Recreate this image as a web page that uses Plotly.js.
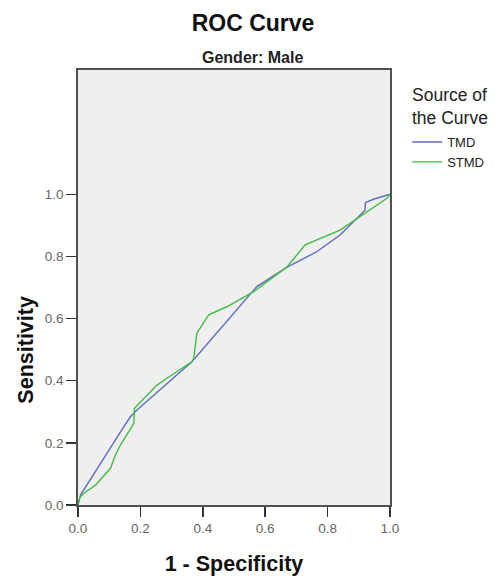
<!DOCTYPE html>
<html>
<head>
<meta charset="utf-8">
<script src="https://cdn.plot.ly/plotly-3.0.1.min.js"></script>
<style>
  html, body { margin: 0; padding: 0; background: #ffffff; }
  #chart { width: 501px; height: 576px; }
</style>
</head>
<body>
<div id="chart"></div>
<script>
// ROC curve points (1 - specificity, sensitivity) for male subjects
const tmdFpr = [0, 0.008, 0.147, 0.168, 0.189, 0.365, 0.573, 0.669, 0.765, 0.840, 0.920, 0.921, 0.947, 1.0];
const tmdTpr = [0, 0.032, 0.252, 0.284, 0.306, 0.461, 0.703, 0.765, 0.815, 0.869, 0.949, 0.973, 0.984, 1.0];

const stmdFpr = [0, 0.006, 0.019, 0.056, 0.104, 0.120, 0.136, 0.179, 0.181, 0.253, 0.285, 0.365, 0.371, 0.381, 0.419, 0.477, 0.563, 0.669, 0.728, 0.765, 0.840, 0.990, 1.0];
const stmdTpr = [0, 0.025, 0.038, 0.064, 0.118, 0.161, 0.193, 0.263, 0.311, 0.386, 0.408, 0.461, 0.472, 0.553, 0.612, 0.638, 0.687, 0.765, 0.837, 0.853, 0.885, 0.987, 1.0];

const seriesNames = ['TMD', 'STMD'];
const xTicks = [0, 0.2, 0.4, 0.6, 0.8, 1.0];
const yTicks = [0, 0.2, 0.4, 0.6, 0.8, 1.0];
const tickLabels = ['0.0', '0.2', '0.4', '0.6', '0.8', '1.0'];

const FONT = 'Liberation Sans, Arial, sans-serif';

const traces = [
  {
    x: tmdFpr, y: tmdTpr, name: seriesNames[0], mode: 'lines',
    line: { color: '#5a6cc4', width: 1.4 }
  },
  {
    x: stmdFpr, y: stmdTpr, name: seriesNames[1], mode: 'lines',
    line: { color: '#40bd40', width: 1.4 }
  }
];

const axisCommon = {
  showgrid: false, zeroline: false,
  showline: true, linecolor: '#505050', linewidth: 1.8, mirror: true,
  ticks: 'outside', ticklen: 10, tickwidth: 1.5, tickcolor: '#333333',
  tickfont: { family: FONT, size: 13.5, color: '#666666' }
};

const layout = {
  width: 501, height: 576,
  margin: { l: 77.5, r: 111, t: 70, b: 71 },
  paper_bgcolor: '#ffffff',
  plot_bgcolor: '#efefef',
  font: { family: FONT, color: '#222222' },
  title: {
    text: '<b>ROC Curve</b>',
    font: { family: FONT, size: 23, color: '#111111' },
    x: 0.505, xref: 'container', xanchor: 'center',
    y: 0.96, yref: 'container', yanchor: 'middle'
  },
  xaxis: Object.assign({}, axisCommon, {
    range: [0, 1], tickvals: xTicks, ticktext: tickLabels,
    title: { text: '<b>1 - Specificity</b>', font: { family: FONT, size: 21.5, color: '#111111' }, standoff: 21 }
  }),
  yaxis: Object.assign({}, axisCommon, {
    range: [0, 1.4], tickvals: yTicks, ticktext: tickLabels
  }),
  legend: {
    x: 1.055, xanchor: 'left', y: 0.869, yanchor: 'top',
    bgcolor: 'rgba(0,0,0,0)',
    font: { family: FONT, size: 13, color: '#222222' },
    tracegroupgap: 0, itemwidth: 30
  },
  annotations: [
    {
      text: '<b>Gender: Male</b>', showarrow: false,
      xref: 'paper', yref: 'paper', x: 0.56, y: 1.0, yanchor: 'bottom', yshift: 2,
      font: { family: FONT, size: 16, color: '#222222' }
    },
    {
      text: '<b>Sensitivity</b>', showarrow: false, textangle: -90,
      xref: 'paper', yref: 'y', x: 0, xshift: -66, y: 0.5,
      font: { family: FONT, size: 21.5, color: '#111111' }
    },
    {
      text: 'Source of<br>the Curve', showarrow: false, align: 'left',
      xref: 'paper', yref: 'paper', x: 1.0, xshift: 20, xanchor: 'left',
      y: 1.0, yshift: -13, yanchor: 'top',
      font: { family: FONT, size: 17.5, color: '#222222' }
    }
  ],
  showlegend: true
};

Plotly.newPlot('chart', traces, layout, { displayModeBar: false, staticPlot: true });
</script>
</body>
</html>
